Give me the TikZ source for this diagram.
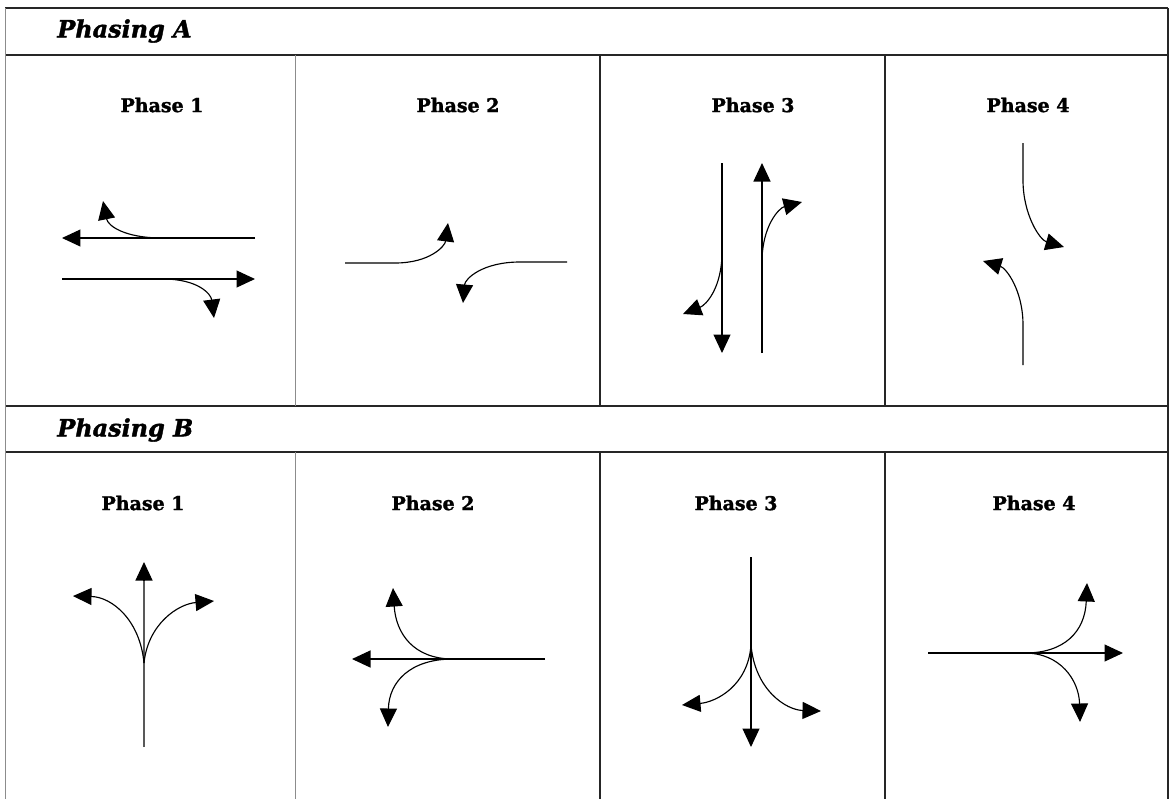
\documentclass[tikz,border=0pt]{standalone}
\usepackage{fontspec}
\setmainfont{DejaVu Serif}
\newfontfamily\heavyserif{DejaVu Serif}[BoldFeatures={FakeBold=1.6}, BoldItalicFeatures={FakeBold=1.6}]
\usepackage{tikz}
\usetikzlibrary{arrows.meta}
\usetikzlibrary{positioning}
\tikzset{frameline/.style = {line width=0.8pt, black!85}}
\tikzset{faintline/.style = {line width=0.5pt, black!45}}
\tikzset{flow/.style = {line width=0.65pt, -{Triangle[length=0.37cm, width=0.34cm]}}}
\tikzset{road/.style = {line width=0.65pt}}
\tikzset{phasing/.style = {anchor=west, inner sep=0, font=\heavyserif\fontsize{13.6}{15}\selectfont\bfseries\itshape}}
\tikzset{phaselbl/.style = {inner sep=0, font=\heavyserif\fontsize{10.8}{12}\selectfont\bfseries}}

\begin{document}
\begin{tikzpicture}[x=0.02cm, y=-0.02cm]
    \useasboundingbox (0, 0) rectangle (1170, 799);

    % table frame
    \draw [frameline] (5, 8) -- (1168, 8);
    \draw [frameline] (5, 55) -- (1168, 55);
    \draw [frameline] (5, 406) -- (1168, 406);
    \draw [frameline] (5, 452) -- (1168, 452);
    \draw [faintline] (5, 8) -- (5, 799);
    \draw [frameline] (1168, 8) -- (1168, 799);
    \draw [faintline] (295, 55) -- (295, 406);
    \draw [faintline] (295, 452) -- (295, 799);
    \draw [frameline] (600, 55) -- (600, 406);
    \draw [frameline] (600, 452) -- (600, 799);
    \draw [frameline] (885, 55) -- (885, 406);
    \draw [frameline] (885, 452) -- (885, 799);

    \node [phasing] (titleA) at (57, 31) {Phasing A};
    \node [phasing] (titleB) at (57, 430) {Phasing B};

    \node [phaselbl] (a1) at (162, 105) {Phase 1};
    \node [phaselbl] (a2) at (458, 105) {Phase 2};
    \node [phaselbl] (a3) at (753, 105) {Phase 3};
    \node [phaselbl] (a4) at (1028, 105) {Phase 4};
    \node [phaselbl] (b1) at (143, 503) {Phase 1};
    \node [phaselbl] (b2) at (433, 503) {Phase 2};
    \node [phaselbl] (b3) at (736, 503) {Phase 3};
    \node [phaselbl] (b4) at (1034, 503) {Phase 4};

    % Phasing A, phase 1
    \draw [flow] (255, 238) -- (62, 238);
    \draw [flow] (162, 238) .. controls (125, 238) and (108, 226) .. (103, 201);
    \draw [flow] (62, 279) -- (255, 279);
    \draw [flow] (163, 279) .. controls (198, 279) and (211, 294) .. (214, 318);

    % Phasing A, phase 2
    \draw [flow] (345, 263) -- (395, 263) .. controls (430, 263) and (445, 246) .. (448, 223);
    \draw [flow] (567, 262) -- (520, 262) .. controls (482, 262) and (465, 279) .. (463, 303);

    % Phasing A, phase 3
    \draw [flow] (722, 163) -- (722, 353);
    \draw [flow] (722, 252) .. controls (722, 288) and (706, 305) .. (683, 314);
    \draw [flow] (762, 353) -- (762, 163);
    \draw [flow] (762, 262) .. controls (762, 226) and (779, 208) .. (802, 202);

    % Phasing A, phase 4
    \draw [flow] (1023, 143) -- (1023, 180) .. controls (1023, 215) and (1040, 240) .. (1064, 247);
    \draw [flow] (1023, 365) -- (1023, 325) .. controls (1023, 290) and (1006, 268) .. (983, 261);

    % Phasing B, phase 1
    \coordinate (jb1) at (144, 663);
    \draw [road, black!65] (144, 747) -- (jb1) -- (144, 580);
    \draw [flow] (144, 581) -- (144, 562);
    \draw [flow] (jb1) .. controls (140, 620) and (112, 597) .. (73, 596);
    \draw [flow] (jb1) .. controls (148, 624) and (178, 604) .. (214, 601);

    % Phasing B, phase 2
    \coordinate (jb2) at (453, 659);
    \draw [flow] (545, 659) -- (352, 659);
    \draw [flow] (jb2) .. controls (414, 659) and (396, 634) .. (393, 588);
    \draw [flow] (jb2) .. controls (410, 659) and (389, 682) .. (388, 727);

    % Phasing B, phase 3
    \coordinate (jb3) at (751, 645);
    \draw [flow] (751, 557) -- (751, 747);
    \draw [flow] (jb3) .. controls (748, 686) and (716, 702) .. (682, 705);
    \draw [flow] (jb3) .. controls (755, 690) and (786, 710) .. (821, 711);

    % Phasing B, phase 4
    \coordinate (jb4) at (1025, 653);
    \draw [flow] (928, 653) -- (1123, 653);
    \draw [flow] (jb4) .. controls (1064, 653) and (1085, 632) .. (1087, 583);
    \draw [flow] (jb4) .. controls (1060, 653) and (1079, 680) .. (1080, 722);
  \end{tikzpicture}
\end{document}
